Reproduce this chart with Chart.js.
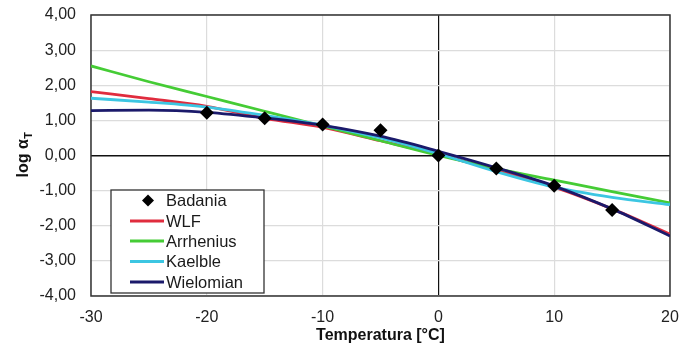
<!DOCTYPE html>
<html>
<head>
<meta charset="utf-8">
<script src="https://cdn.jsdelivr.net/npm/chart.js@4.4.1/dist/chart.umd.min.js"></script>
<style>
html,body{margin:0;padding:0;background:#fff;}
#wrap{width:680px;height:347px;position:relative;}
</style>
</head>
<body>
<div id="wrap"><canvas id="c" width="680" height="347"></canvas></div>
<script>
// ---- data ----
const temps = [-30, -25, -20, -15, -10, -5, 0, 5, 10, 15, 20];
const badaniaT = [-20, -15, -10, -5, 0, 5, 10, 15];
const badaniaY = [1.22, 1.06, 0.88, 0.72, 0.00, -0.37, -0.86, -1.55];
const wlf       = [1.82, 1.62, 1.40, 1.06, 0.80, 0.42, 0.03, -0.42, -0.90, -1.52, -2.24];
const arrhenius = [2.55, 2.10, 1.68, 1.26, 0.84, 0.42, 0.00, -0.37, -0.70, -1.03, -1.35];
const kaelble   = [1.63, 1.52, 1.38, 1.14, 0.86, 0.50, 0.05, -0.46, -0.90, -1.19, -1.40];
const wielomian = [1.28, 1.29, 1.23, 1.07, 0.86, 0.55, 0.12, -0.35, -0.87, -1.52, -2.29];
const seriesNames = ['Badania', 'WLF', 'Arrhenius', 'Kaelble', 'Wielomian'];
const xTitle = 'Temperatura [°C]';

const colors = {WLF:'#e02c3e', Arrhenius:'#45cc35', Kaelble:'#3cc6e2', Wielomian:'#1b1a6b'};
const pts = (xs, ys) => xs.map((x, i) => ({x: x, y: ys[i]}));

const FONT = "'Liberation Sans', Arial, sans-serif";

function lineDs(name, ys, order) {
  return {label: name, data: pts(temps, ys), showLine: true, borderColor: colors[name],
    backgroundColor: colors[name], borderWidth: 2.8, pointRadius: 0, pointHoverRadius: 0,
    cubicInterpolationMode: 'monotone', order: order};
}

const datasets = [
  {label: seriesNames[0], data: pts(badaniaT, badaniaY), showLine: false, pointStyle: 'rectRot',
   pointRadius: 7, backgroundColor: '#000', borderColor: '#000', borderWidth: 0, order: 0},
  lineDs('WLF', wlf, 4),
  lineDs('Arrhenius', arrhenius, 3),
  lineDs('Kaelble', kaelble, 2),
  lineDs('Wielomian', wielomian, 1)
];

const framePlugin = {
  id: 'frame',
  beforeDatasetsDraw(chart) {
    const {ctx, chartArea: a} = chart;
    ctx.save();
    ctx.strokeStyle = '#333';
    ctx.lineWidth = 1.5;
    ctx.strokeRect(a.left, a.top, a.right - a.left, a.bottom - a.top);
    ctx.restore();
  },
  afterDraw(chart) {
    const ctx = chart.ctx;
    // y title with subscript
    ctx.save();
    ctx.translate(22, 155);
    ctx.rotate(-Math.PI / 2);
    ctx.fillStyle = '#111';
    ctx.textBaseline = 'alphabetic';
    ctx.font = "bold 16px " + FONT;
    const main = 'log \u03b1';
    const w1 = ctx.measureText(main).width;
    ctx.font = "bold 11px " + FONT;
    const w2 = ctx.measureText('T').width;
    const x0 = -(w1 + w2) / 2;
    ctx.font = "bold 16px " + FONT;
    ctx.fillText(main, x0, 6);
    ctx.font = "bold 11px " + FONT;
    ctx.fillText('T', x0 + w1 + 0.5, 10);
    ctx.restore();

    // legend box
    ctx.save();
    const lx = 111, ly = 190, lw = 153, lh = 103;
    ctx.fillStyle = '#fff';
    ctx.fillRect(lx, ly, lw, lh);
    ctx.strokeStyle = '#333';
    ctx.lineWidth = 1.3;
    ctx.strokeRect(lx, ly, lw, lh);
    ctx.font = "16.5px " + FONT;
    ctx.textBaseline = 'middle';
    const rowY = [200.5, 221, 241, 261.5, 282];
    seriesNames.forEach((name, i) => {
      const y = rowY[i];
      if (i === 0) {
        ctx.fillStyle = '#000';
        ctx.beginPath();
        ctx.moveTo(148, y - 6); ctx.lineTo(154, y); ctx.lineTo(148, y + 6); ctx.lineTo(142, y);
        ctx.closePath(); ctx.fill();
      } else {
        ctx.strokeStyle = colors[name];
        ctx.lineWidth = 2.8;
        ctx.beginPath(); ctx.moveTo(130, y); ctx.lineTo(164, y); ctx.stroke();
      }
      ctx.fillStyle = '#1a1a1a';
      ctx.fillText(name, 166, y + 1);
    });
    ctx.restore();
  }
};

new Chart(document.getElementById('c'), {
  type: 'scatter',
  data: {datasets: datasets},
  options: {
    responsive: false,
    animation: false,
    events: [],
    layout: {padding: {left: 0, top: 15, right: 10, bottom: 0}},
    plugins: {legend: {display: false}, tooltip: {enabled: false}},
    scales: {
      x: {
        type: 'linear', min: -30, max: 20,
        ticks: {stepSize: 10, padding: 12, color: '#222', font: {family: FONT, size: 16}},
        grid: {drawTicks: false, lineWidth: 1.2,
          color: c => c.tick && c.tick.value === 0 ? '#111' : '#dcdcdc'},
        border: {display: false},
        title: {display: true, text: xTitle, color: '#111', font: {family: FONT, size: 16, weight: 'bold'},
          padding: {top: 0, bottom: 2}},
        afterFit: s => { s.height = 51; s.paddingLeft = 0; s.paddingRight = 0; }
      },
      y: {
        min: -4, max: 4,
        ticks: {stepSize: 1, padding: 15, color: '#222', font: {family: FONT, size: 16},
          callback: v => v.toFixed(2).replace('.', ',')},
        grid: {drawTicks: false, lineWidth: c => c.tick && c.tick.value === 0 ? 1.5 : 1.2,
          color: c => c.tick && c.tick.value === 0 ? '#111' : '#dcdcdc'},
        border: {display: false},
        afterFit: s => { s.width = 91; s.paddingTop = 0; s.paddingBottom = 0; }
      }
    }
  },
  plugins: [framePlugin]
});
</script>
</body>
</html>
